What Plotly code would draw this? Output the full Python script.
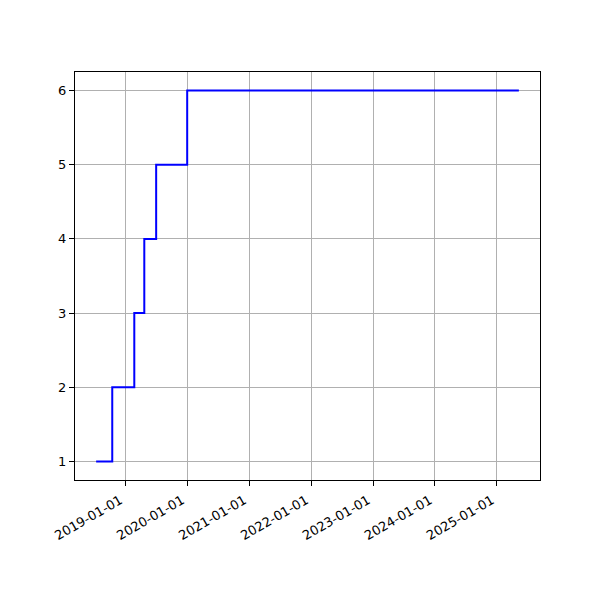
import plotly.graph_objects as go
import pandas as pd

dates = ["2018-07-13", "2018-10-16", "2019-02-23", "2019-04-23", "2019-07-02", "2020-01-01", "2025-05-10"]
values = [1, 2, 3, 4, 5, 6, 6]
tick_dates = ["2019-01-01", "2020-01-01", "2021-01-01", "2022-01-01", "2023-01-01", "2024-01-01", "2025-01-01"]

d = pd.to_datetime(dates)
span = d.max() - d.min()
xr = [d.min() - span * 0.05, d.max() + span * 0.05]

fig = go.Figure()
fig.add_trace(go.Scatter(x=dates, y=values, mode="lines", line=dict(color="blue", width=2, shape="hv")))

axis_common = dict(showline=True, linecolor="black", linewidth=1, mirror=True,
                   ticks="outside", ticklen=5, tickwidth=1, tickcolor="black",
                   showgrid=True, gridcolor="#b0b0b0", gridwidth=1, zeroline=False,
                   tickfont=dict(family="DejaVu Sans", size=13, color="black"))

fig.update_layout(
    width=600, height=600,
    margin=dict(l=67, r=68, t=64, b=128),
    plot_bgcolor="white", paper_bgcolor="white",
    showlegend=False,
    xaxis=dict(type="date", range=[xr[0].strftime("%Y-%m-%d %H:%M"), xr[1].strftime("%Y-%m-%d %H:%M")],
               tickvals=tick_dates, ticktext=tick_dates, tickangle=-30,
               ticklabelshift=-5, ticklabelstandoff=2, **axis_common),
    yaxis=dict(range=[0.75, 6.25], tickvals=[1, 2, 3, 4, 5, 6], **axis_common),
)
fig.write_html("out.html")
